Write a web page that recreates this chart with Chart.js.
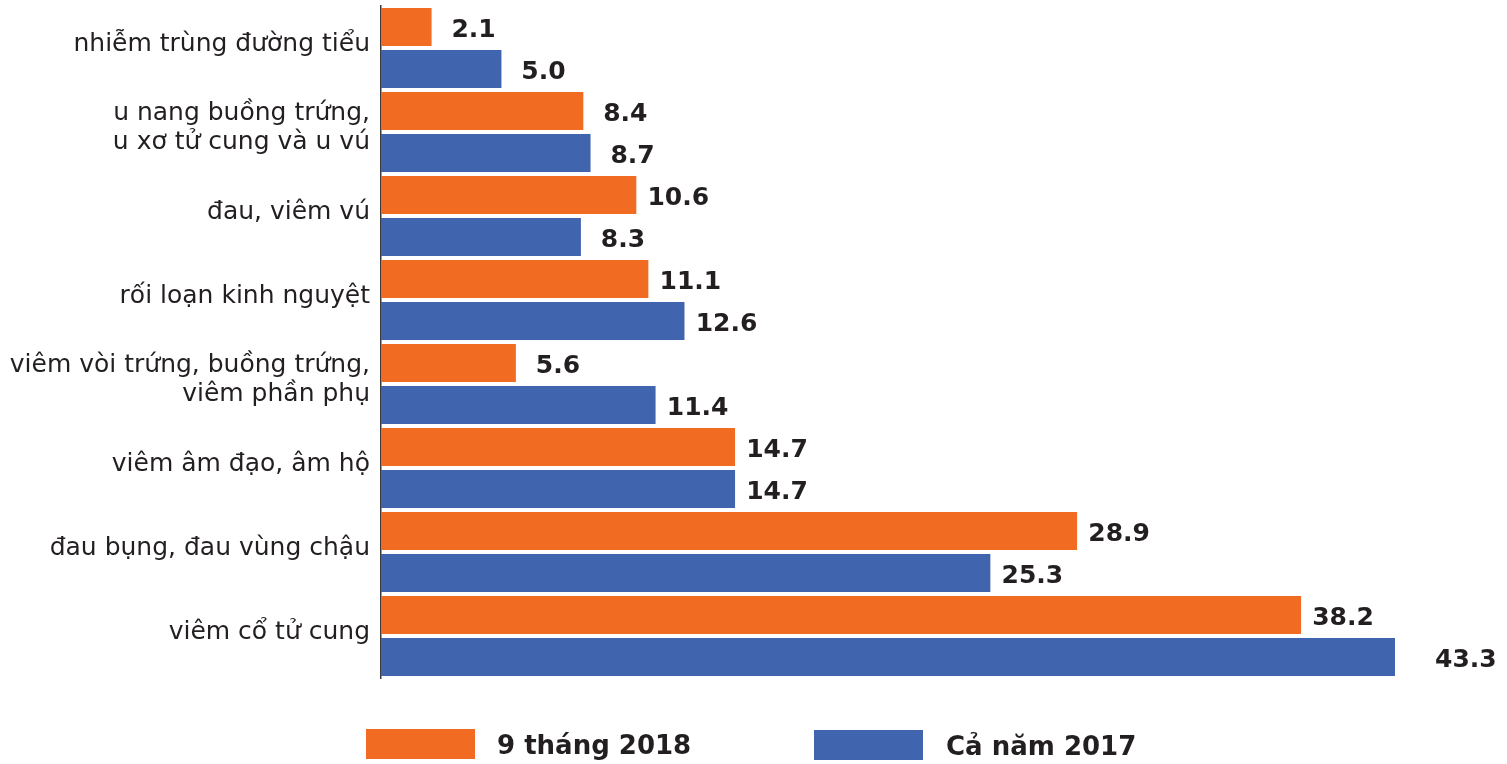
<!DOCTYPE html>
<html>
<head>
<meta charset="utf-8">
<script src="https://cdn.jsdelivr.net/npm/chart.js@4.4.0/dist/chart.umd.min.js"></script>
<style>
  html, body { margin: 0; padding: 0; background: #fff; }
  #wrap { position: relative; width: 1507px; height: 764px; }
  .leg-box { position: absolute; width: 109px; height: 30px; }
  .leg-txt { position: absolute; font-family: "DejaVu Sans", sans-serif; font-weight: 700;
             font-size: 26px; color: #231f20; line-height: 30px; white-space: nowrap; }
</style>
</head>
<body>
<div id="wrap">
  <canvas id="grafico" width="1507" height="764"></canvas>
  <div class="leg-box" style="left:366px; top:729px; background:#F26B23"></div>
  <div class="leg-txt" style="left:497px; top:730px;">9 tháng 2018</div>
  <div class="leg-box" style="left:814px; top:730px; background:#4164AE"></div>
  <div class="leg-txt" style="left:946px; top:731px;">Cả năm 2017</div>
</div>
<script>
// ============================
// DATOS
// ============================
const categorias = [
  "nhiễm trùng đường tiểu",
  ["u nang buồng trứng,", "u xơ tử cung và u vú"],
  "đau, viêm vú",
  "rối loạn kinh nguyệt",
  ["viêm vòi trứng, buồng trứng,", "viêm phần phụ"],
  "viêm âm đạo, âm hộ",
  "đau bụng, đau vùng chậu",
  "viêm cổ tử cung"
];
const serie2018 = [2.1, 8.4, 10.6, 11.1, 5.6, 14.7, 28.9, 38.2];
const serie2017 = [5.0, 8.7, 8.3, 12.6, 11.4, 14.7, 25.3, 43.3];
const nombres = ["9 tháng 2018", "Cả năm 2017"];

// ============================
// ETIQUETAS DE VALOR
// ============================
const etiquetas = {
  id: "etiquetas",
  afterDatasetsDraw(chart) {
    const ctx = chart.ctx;
    const xs = chart.scales.x;
    ctx.save();
    ctx.font = "700 25px 'DejaVu Sans', sans-serif";
    ctx.fillStyle = "#231f20";
    ctx.textAlign = "center";
    ctx.textBaseline = "middle";
    chart.data.datasets.forEach((ds, i) => {
      chart.getDatasetMeta(i).data.forEach((bar, j) => {
        const x = xs.getPixelForValue(ds.data[j]) + 42;
        ctx.fillText(ds.data[j].toFixed(1), x, bar.y + 3);
      });
    });
    ctx.restore();
  }
};

// ============================
// GRÁFICO
// ============================
new Chart(document.getElementById("grafico"), {
  type: "bar",
  data: {
    labels: categorias,
    datasets: [
      { label: nombres[0], data: serie2018, backgroundColor: "#F26B23" },
      { label: nombres[1], data: serie2017, backgroundColor: "#4164AE" }
    ]
  },
  options: {
    indexAxis: "y",
    responsive: false,
    animation: false,
    categoryPercentage: 1,
    barPercentage: 0.905,
    layout: { padding: { top: 6, bottom: 86, right: 112, left: 0 } },
    plugins: { legend: { display: false }, tooltip: { enabled: false } },
    scales: {
      x: { display: false, min: 0, max: 42.1 },
      y: {
        afterFit(scale) {
          scale.width = 381;
          scale.paddingTop = 0;
          scale.paddingBottom = 0;
        },
        grid: { color: "transparent", drawTicks: false },
        border: { display: true, color: "#3a3a3a", width: 1.5 },
        ticks: {
          padding: 11,
          labelOffset: -4,
          color: "#231f20",
          font: { family: "'DejaVu Sans', sans-serif", size: 25, lineHeight: 1.16 }
        }
      }
    }
  },
  plugins: [etiquetas]
});
</script>
</body>
</html>
